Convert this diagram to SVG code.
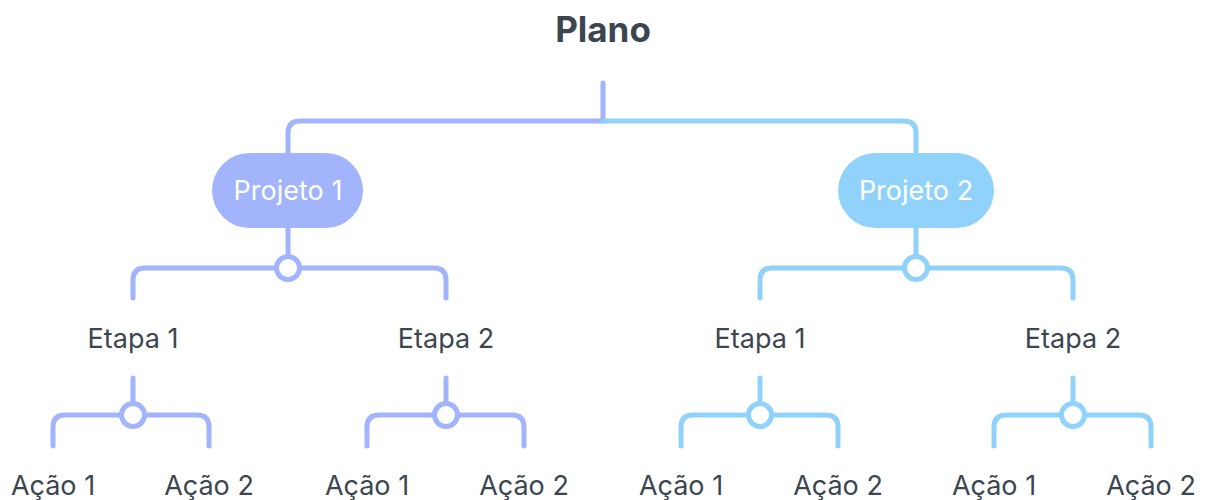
<svg xmlns="http://www.w3.org/2000/svg" width="1205" height="500" viewBox="0 0 1205 500">
  <style>
    .lnA { fill: none; stroke: #A1B4FC; stroke-width: 5; stroke-linecap: round; stroke-linejoin: round; }
    .lnB { fill: none; stroke: #91D2FB; stroke-width: 5; stroke-linecap: round; stroke-linejoin: round; }
    .dotA { fill: #FFFFFF; stroke: #A1B4FC; stroke-width: 5; }
    .dotB { fill: #FFFFFF; stroke: #91D2FB; stroke-width: 5; }
    .title { font-family: Inter, "Liberation Sans", sans-serif; font-weight: 700; font-size: 35px; fill: #3C4650; text-anchor: middle; }
    .pillTxt { font-family: Inter, "Liberation Sans", sans-serif; font-size: 27px; fill: #FFFFFF; text-anchor: middle; }
    .lbl { font-family: Inter, "Liberation Sans", sans-serif; font-size: 27px; fill: #3C4650; text-anchor: middle; }
  </style>

  <!-- connectors -->
  <g id="connectors">
    <path class="lnA" d="M603 83 V121"/>
    <path class="lnA" d="M603 121 H300 Q288 121 288 133 V153"/>
    <path class="lnB" d="M603 121 H904 Q916 121 916 133 V153"/>

    <!-- Projeto 1 branch -->
    <path class="lnA" d="M288 228 V268"/>
    <path class="lnA" d="M133 298 V280 Q133 268 145 268 H434 Q446 268 446 280 V298"/>
    <path class="lnA" d="M133 378 V415"/>
    <path class="lnA" d="M53 446 V427 Q53 415 65 415 H197 Q209 415 209 427 V446"/>
    <path class="lnA" d="M446 378 V415"/>
    <path class="lnA" d="M367 446 V427 Q367 415 379 415 H512 Q524 415 524 427 V446"/>
    <circle class="dotA" cx="288" cy="268" r="11.5"/>
    <circle class="dotA" cx="133" cy="415" r="11.5"/>
    <circle class="dotA" cx="446" cy="415" r="11.5"/>

    <!-- Projeto 2 branch -->
    <path class="lnB" d="M916 228 V268"/>
    <path class="lnB" d="M760 298 V280 Q760 268 772 268 H1061 Q1073 268 1073 280 V298"/>
    <path class="lnB" d="M760 378 V415"/>
    <path class="lnB" d="M681 446 V427 Q681 415 693 415 H826 Q838 415 838 427 V446"/>
    <path class="lnB" d="M1073 378 V415"/>
    <path class="lnB" d="M994 446 V427 Q994 415 1006 415 H1139 Q1151 415 1151 427 V446"/>
    <circle class="dotB" cx="916" cy="268" r="11.5"/>
    <circle class="dotB" cx="760" cy="415" r="11.5"/>
    <circle class="dotB" cx="1073" cy="415" r="11.5"/>
  </g>

  <g id="plano"><text class="title" x="603" y="42">Plano</text></g>

  <g id="projeto1">
    <rect x="212" y="153" width="151" height="75" rx="37.5" fill="#A1B4FC"/>
    <text class="pillTxt" x="288" y="200">Projeto 1</text>
  </g>
  <g id="projeto2">
    <rect x="838" y="153" width="156" height="75" rx="37.5" fill="#91D2FB"/>
    <text class="pillTxt" x="916" y="200">Projeto 2</text>
  </g>

  <g id="p1-etapa1"><text class="lbl" x="133" y="348">Etapa 1</text></g>
  <g id="p1-etapa2"><text class="lbl" x="446" y="348">Etapa 2</text></g>
  <g id="p2-etapa1"><text class="lbl" x="760" y="348">Etapa 1</text></g>
  <g id="p2-etapa2"><text class="lbl" x="1073" y="348">Etapa 2</text></g>

  <g id="p1e1-acao1"><text class="lbl" x="53" y="495">Ação 1</text></g>
  <g id="p1e1-acao2"><text class="lbl" x="209" y="495">Ação 2</text></g>
  <g id="p1e2-acao1"><text class="lbl" x="367" y="495">Ação 1</text></g>
  <g id="p1e2-acao2"><text class="lbl" x="524" y="495">Ação 2</text></g>
  <g id="p2e1-acao1"><text class="lbl" x="681" y="495">Ação 1</text></g>
  <g id="p2e1-acao2"><text class="lbl" x="838" y="495">Ação 2</text></g>
  <g id="p2e2-acao1"><text class="lbl" x="994" y="495">Ação 1</text></g>
  <g id="p2e2-acao2"><text class="lbl" x="1151" y="495">Ação 2</text></g>
</svg>
